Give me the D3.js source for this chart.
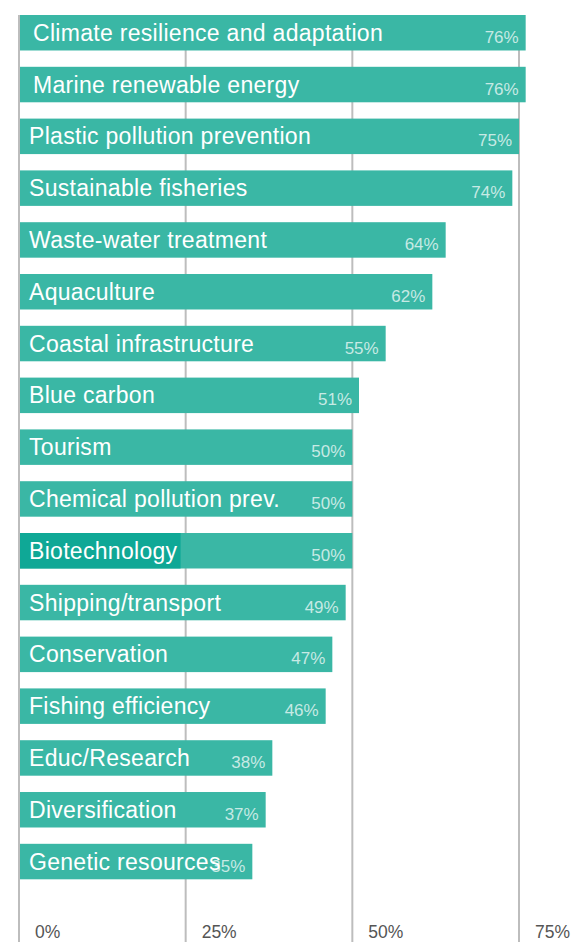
<!DOCTYPE html>
<html>
<head>
<meta charset="utf-8">
<script src="https://cdn.jsdelivr.net/npm/d3@7"></script>
<style>
  body { margin: 0; background: #fff; }
  svg { display: block; font-family: "Liberation Sans", Arial, Helvetica, sans-serif; }
</style>
</head>
<body>
<div id="chart"></div>
<script>
// share of respondents, top to bottom
var categories = ["Climate resilience and adaptation", "Marine renewable energy",
  "Plastic pollution prevention", "Sustainable fisheries", "Waste-water treatment",
  "Aquaculture", "Coastal infrastructure", "Blue carbon", "Tourism",
  "Chemical pollution prev.", "Biotechnology", "Shipping/transport", "Conservation",
  "Fishing efficiency", "Educ/Research", "Diversification", "Genetic resources"];
var values = [76, 76, 75, 74, 64, 62, 55, 51, 50, 50, 50, 49, 47, 46, 38, 37, 35];
var ticks = [0, 25, 50, 75];
var highlighted = "Biotechnology";

var W = 573, H = 942;

var svg = d3.select("#chart").append("svg")
    .attr("width", W)
    .attr("height", H);

var x = d3.scaleLinear()
    .domain([0, 75])
    .range([19, 519]);

var y = d3.scaleBand()
    .domain(categories)
    .range([15, 879.3])
    .paddingInner(0.315)
    .paddingOuter(0);

// gridlines
svg.selectAll("line.grid").data(ticks).enter()
  .append("line")
    .attr("class", "grid")
    .attr("x1", function(d) { return x(d); })
    .attr("x2", function(d) { return x(d); })
    .attr("y1", 15)
    .attr("y2", H)
    .style("stroke", "#bdbdbd")
    .style("stroke-width", 2);

// tick labels
svg.selectAll("text.tick").data(ticks).enter()
  .append("text")
    .attr("class", "tick")
    .attr("x", function(d) { return x(d) + 16; })
    .attr("y", 938)
    .style("fill", "#555")
    .style("font-size", "17.5px")
    .text(function(d) { return d + "%"; });

var rows = categories.map(function(c, i) { return {name: c, value: values[i]}; });

svg.selectAll("rect.bar").data(rows).enter()
  .append("rect")
    .attr("class", "bar")
    .attr("x", x(0) + 1)
    .attr("y", function(d) { return y(d.name); })
    .attr("width", function(d) { return x(d.value) - x(0) - 1; })
    .attr("height", y.bandwidth())
    .style("fill", "#3ab7a5");

var labels = svg.selectAll("text.label").data(rows).enter()
  .append("text")
    .attr("class", "label")
    .attr("x", function(d, i) { return x(0) + (i < 2 ? 14 : 10); })
    .attr("y", function(d) { return y(d.name) + y.bandwidth() / 2 + 8; })
    .style("fill", "#fff")
    .style("font-size", "23px")
    .style("letter-spacing", "0.3px")
    .text(function(d) { return d.name; });

// darker box behind the highlighted label
labels.filter(function(d) { return d.name === highlighted; }).each(function(d) {
  var bb = this.getBBox();
  svg.insert("rect", "text.label")
    .attr("x", x(0) + 1)
    .attr("y", y(d.name))
    .attr("width", bb.x + bb.width + 3 - x(0) - 1)
    .attr("height", y.bandwidth())
    .style("fill", "#0fa896");
});

svg.selectAll("text.value").data(rows).enter()
  .append("text")
    .attr("class", "value")
    .attr("x", function(d) { return x(d.value) - 7; })
    .attr("y", function(d) { return y(d.name) + y.bandwidth() / 2 + 10; })
    .attr("text-anchor", "end")
    .style("fill", "rgba(255,255,255,0.72)")
    .style("font-size", "17px")
    .text(function(d) { return d.value + "%"; });
</script>
</body>
</html>
